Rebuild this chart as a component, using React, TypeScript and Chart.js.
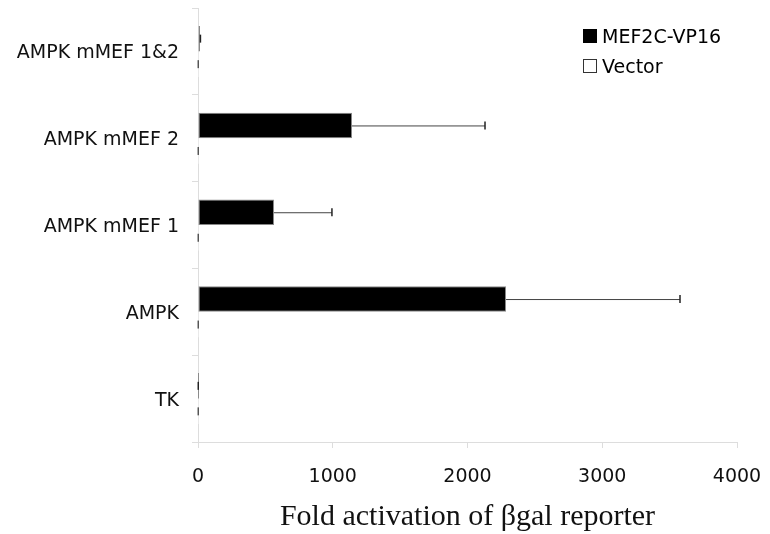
import React, { useEffect, useRef } from "react";
import { Chart, registerables } from "chart.js";

Chart.register(...registerables);

// Reporter constructs, listed top to bottom
const constructs = ["AMPK mMEF 1&2", "AMPK mMEF 2", "AMPK mMEF 1", "AMPK", "TK"];

// Fold activation of the βgal reporter
const mef2cValues = [15, 1143, 564, 2286, 1];
const mef2cErrors = [3, 987, 430, 1291, 1];
const vectorValues = [1, 1, 1, 1, 1];
const vectorErrors = [1, 1, 1, 1, 1];

const xTicks = [0, 1000, 2000, 3000, 4000];
const seriesNames = ["MEF2C-VP16", "Vector"];

const SANS = "'DejaVu Sans', sans-serif";
const SERIF = "'Liberation Serif', 'Times New Roman', serif";

// Horizontal error whiskers with a short vertical cap
const errorBars = {
  id: "errorBars",
  afterDatasetsDraw(chart: any) {
    const { ctx } = chart;
    const x = chart.scales.x;
    const errs = [mef2cErrors, vectorErrors];
    chart.data.datasets.forEach((ds: any, di: number) => {
      const meta = chart.getDatasetMeta(di);
      meta.data.forEach((bar: any, i: number) => {
        const v = ds.data[i] as number;
        const e = errs[di][i];
        const x0 = x.getPixelForValue(v);
        const x1 = x.getPixelForValue(v + e);
        const y = bar.y;
        ctx.save();
        ctx.strokeStyle = "#444";
        ctx.lineWidth = 1;
        ctx.beginPath();
        ctx.moveTo(x0, y + 0.5);
        ctx.lineTo(x1, y + 0.5);
        ctx.stroke();
        ctx.lineWidth = 1.5;
        ctx.strokeStyle = di === 0 ? "#222" : "#555";
        ctx.beginPath();
        ctx.moveTo(x1, y - 4);
        ctx.lineTo(x1, y + 4);
        ctx.stroke();
        ctx.restore();
      });
    });
  },
};

// Legend in the upper right corner
const cornerLegend = {
  id: "cornerLegend",
  afterDraw(chart: any) {
    const { ctx } = chart;
    ctx.save();
    ctx.font = `19px ${SANS}`;
    ctx.textBaseline = "alphabetic";
    ctx.fillStyle = "#000";
    ctx.fillRect(583, 29, 14, 14);
    ctx.fillText(seriesNames[0], 602, 43);
    ctx.fillStyle = "#fff";
    ctx.fillRect(583.5, 59.5, 13, 13);
    ctx.strokeStyle = "#333";
    ctx.lineWidth = 1;
    ctx.strokeRect(583.5, 59.5, 13, 13);
    ctx.fillStyle = "#000";
    ctx.fillText(seriesNames[1], 602, 73);
    ctx.restore();
  },
};

export default function App() {
  const canvasRef = useRef<HTMLCanvasElement | null>(null);

  useEffect(() => {
    if (!canvasRef.current) return;
    const chart = new Chart(canvasRef.current, {
      type: "bar",
      data: {
        labels: constructs,
        datasets: [
          {
            label: seriesNames[0],
            data: mef2cValues,
            backgroundColor: "#000",
            borderColor: "#888",
            borderWidth: (c: any) => ((c.raw as number) < 5 ? 0 : 1),
            borderSkipped: false,
          },
          {
            label: seriesNames[1],
            data: vectorValues,
            backgroundColor: "#fff",
            borderWidth: 0,
          },
        ],
      },
      options: {
        indexAxis: "y",
        responsive: false,
        animation: false,
        devicePixelRatio: 1,
        categoryPercentage: 0.588,
        barPercentage: 1,
        layout: { padding: { left: 0, right: 33, top: 8, bottom: 0 } },
        plugins: {
          legend: { display: false },
          tooltip: { enabled: false },
        },
        scales: {
          x: {
            type: "linear",
            min: 0,
            max: 4000,
            afterBuildTicks(scale: any) {
              scale.ticks = xTicks.map((v) => ({ value: v }));
            },
            afterFit(scale: any) {
              scale.height = 92;
              scale.paddingLeft = 0;
              scale.paddingRight = 0;
            },
            grid: {
              drawOnChartArea: false,
              drawTicks: true,
              tickLength: 6,
              color: "#ddd",
            },
            border: { color: "#ddd" },
            ticks: {
              font: { family: SANS, size: 19 },
              color: "#111",
              padding: 18,
              maxRotation: 0,
              callback: (v: any) => String(v),
            },
            title: {
              display: true,
              text: "Fold activation of βgal reporter",
              font: { family: SERIF, size: 30, lineHeight: 1.0 },
              color: "#111",
              padding: { top: 0, bottom: 2 },
            },
          },
          y: {
            afterFit(scale: any) {
              scale.width = 198;
              scale.paddingTop = 0;
              scale.paddingBottom = 0;
            },
            grid: {
              drawOnChartArea: false,
              drawTicks: true,
              tickLength: 6,
              color: "#ddd",
              offset: true,
            },
            border: { color: "#ddd" },
            ticks: {
              font: { family: SANS, size: 19 },
              color: "#111",
              padding: 13,
              labelOffset: 2,
            },
          },
        },
      },
      plugins: [errorBars, cornerLegend],
    });
    return () => chart.destroy();
  }, []);

  return (
    <div style={{ position: "absolute", left: 0, top: 0, width: 770, height: 534, background: "#fff" }}>
      <canvas ref={canvasRef} width={770} height={534} />
    </div>
  );
}
